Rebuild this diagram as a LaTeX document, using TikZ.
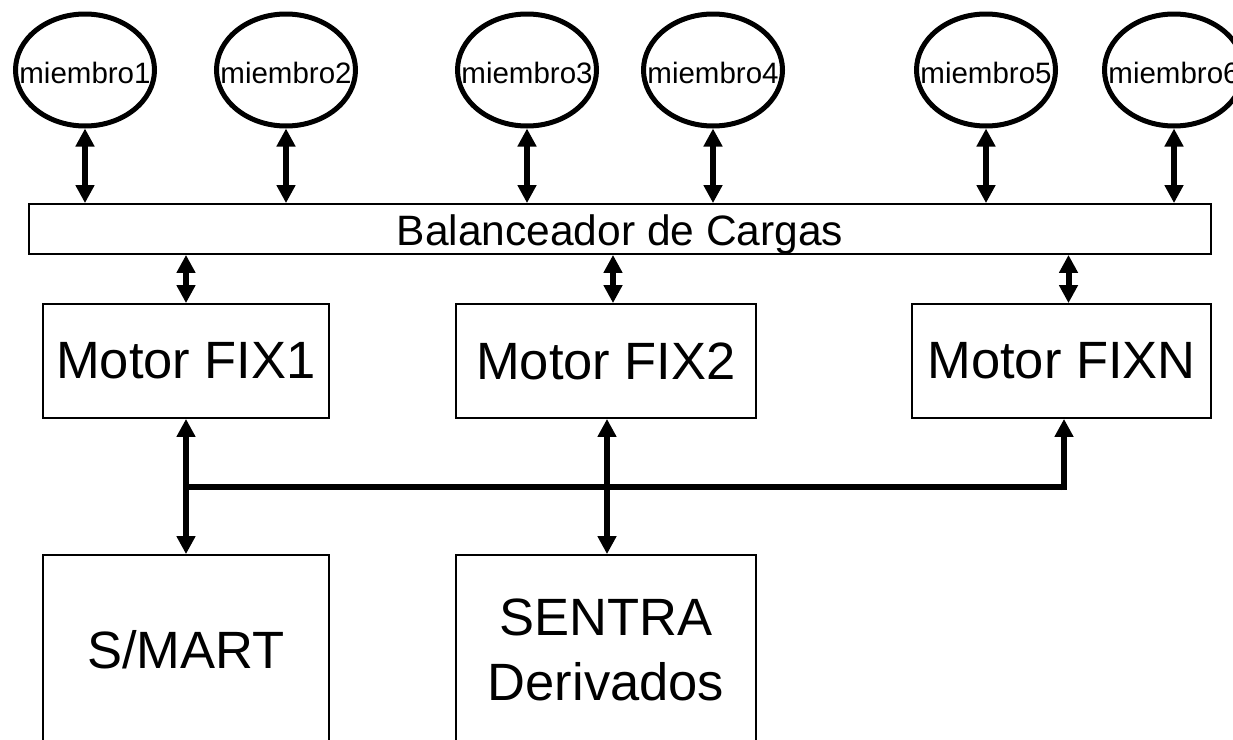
\documentclass[tikz,border=0pt]{standalone}
\usepackage{fontspec}
\setmainfont{Liberation Sans}
\usetikzlibrary{arrows.meta,shapes.geometric}
\tikzset{
  memb/.style={ellipse, draw, line width=5pt, minimum width=139pt, minimum height=112pt, inner sep=0pt},
  mtext/.style={inner sep=0pt, font=\fontsize{29.5}{35}\selectfont},
  boxn/.style={rectangle, draw, line width=1.8pt, inner sep=0pt},
  big/.style={font=\fontsize{52.5}{65}\selectfont},
  tipA/.tip={Triangle[length=18pt,width=18pt]},
  dbl/.style={line width=6pt, tipA-tipA},
  sgl/.style={line width=6pt, -tipA},
  bus/.style={line width=6pt}
}
\begin{document}
\begin{tikzpicture}[x=1pt,y=-1pt]
\useasboundingbox (0,0) rectangle (1233,739);
% members
\node[memb] (m1) at (85,70) {};
\node[memb] (m2) at (286,70) {};
\node[memb] (m3) at (527,70) {};
\node[memb] (m4) at (713,70) {};
\node[memb] (m5) at (986,70) {};
\node[memb] (m6) at (1174,70) {};
\node[mtext, anchor=base] (t1) at ([yshift=-13pt]m1.center) {miembro1};
\node[mtext, anchor=base] (t2) at ([yshift=-13pt]m2.center) {miembro2};
\node[mtext, anchor=base] (t3) at ([yshift=-13pt]m3.center) {miembro3};
\node[mtext, anchor=base] (t4) at ([yshift=-13pt]m4.center) {miembro4};
\node[mtext, anchor=base] (t5) at ([yshift=-13pt]m5.center) {miembro5};
\node[mtext, anchor=base] (t6) at ([yshift=-13pt]m6.center) {miembro6};
% balancer
\node[boxn, minimum width=1182pt, minimum height=50pt] (bal) at (620,229) {};
\node[inner sep=0pt, anchor=base, font=\fontsize{42.5}{50}\selectfont] (balt) at (620,245) {Balanceador de Cargas};
% motors
\node[boxn, big, minimum width=286pt, minimum height=114pt] (mot1) at (186,361) {Motor FIX1};
\node[boxn, big, minimum width=300pt, minimum height=114pt] (mot2) at (606,361) {Motor FIX2};
\node[boxn, big, minimum width=299pt, minimum height=114pt] (mot3) at (1061.5,361) {Motor FIXN};
% bottom systems
\node[boxn, big, minimum width=286pt, minimum height=190pt] (smart) at (186,650) {S/MART};
\node[boxn, big, minimum width=300pt, minimum height=190pt, align=center] (sentra) at (606,650) {SENTRA\\Derivados};
% member arrows
\foreach \m in {m1,m2,m3,m4,m5,m6}{
  \draw[dbl] (\m.south) -- (\m.south |- bal.north);
}
% balancer to motors
\draw[dbl] (mot1.north |- bal.south) -- (mot1.north);
\draw[dbl] ([xshift=7pt]mot2.north |- bal.south) -- ([xshift=7pt]mot2.north);
\draw[dbl] ([xshift=7pt]mot3.north |- bal.south) -- ([xshift=7pt]mot3.north);
% bus
\coordinate (b1) at (186,487);
\coordinate (b3) at (1064,487);
\draw[bus] (b1) -- (b3);
\draw[sgl] ([yshift=-3pt]b3) -- (b3 |- mot3.south);
\draw[dbl] (mot1.south) -- (smart.north);
\draw[dbl] ([xshift=1pt]mot2.south) -- ([xshift=1pt]sentra.north);
\end{tikzpicture}
\end{document}
